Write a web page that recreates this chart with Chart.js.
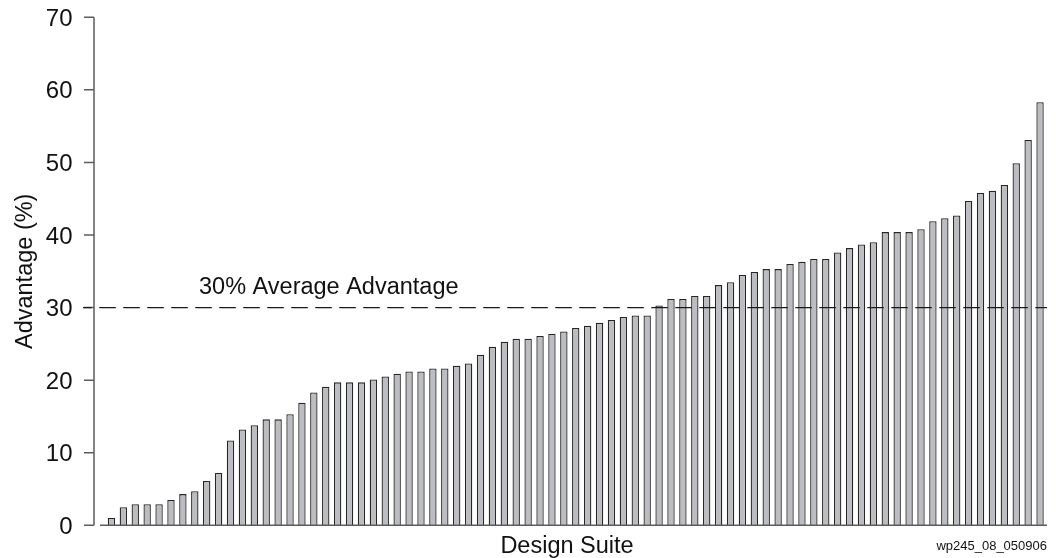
<!DOCTYPE html>
<html>
<head>
<meta charset="utf-8">
<script src="https://cdn.jsdelivr.net/npm/chart.js@4.4.1/dist/chart.umd.min.js"></script>
<style>
    body { margin: 0; background: #fff; }
    #chart-box { width: 1057px; height: 558px; }
</style>
</head>
<body>
<div id="chart-box"><canvas id="advantage-chart" width="1057" height="558"></canvas></div>
<script>
// Dane (posortowane rosnaco)
const advantage = [
    1.0, 2.5, 2.9, 2.9, 2.9, 3.5, 4.3, 4.7, 6.1, 7.2,
    11.7, 13.2, 13.8, 14.6, 14.6, 15.3, 16.9, 18.3, 19.1, 19.7,
    19.7, 19.7, 20.1, 20.5, 20.9, 21.2, 21.2, 21.6, 21.6, 22.0,
    22.3, 23.5, 24.6, 25.3, 25.7, 25.7, 26.1, 26.4, 26.7, 27.2,
    27.5, 27.9, 28.3, 28.7, 28.9, 28.9, 30.3, 31.2, 31.2, 31.6,
    31.6, 33.1, 33.5, 34.5, 34.9, 35.3, 35.3, 36.0, 36.3, 36.7,
    36.7, 37.6, 38.2, 38.7, 39.0, 40.4, 40.4, 40.4, 40.8, 41.9,
    42.3, 42.7, 44.7, 45.8, 46.1, 46.9, 49.9, 53.1, 58.3
];
const designs = advantage.map((_, i) => 'Design ' + (i + 1));
const yTicks = [0, 10, 20, 30, 40, 50, 60, 70];
const averageAdvantage = 30;
const averageLabel = '30% Average Advantage';
const xTitle = 'Design Suite';
const yTitle = 'Advantage (%)';
const figureId = 'wp245_08_050906';

const FONT = '"Liberation Sans", Arial, Helvetica, sans-serif';

// Osie, linia sredniej i podpisy
const axesPlugin = {
    id: 'axesPlugin',
    afterDatasetsDraw(chart) {
        const ctx = chart.ctx;
        const y = chart.scales.y;
        const area = chart.chartArea;
        const axisX = area.left - 11.5;
        const y0 = y.getPixelForValue(0);
        const yTop = y.getPixelForValue(yTicks[yTicks.length - 1]);

        ctx.save();
        ctx.strokeStyle = '#5c5c5c';
        ctx.lineWidth = 1.5;
        ctx.beginPath();
        ctx.moveTo(axisX, yTop);
        ctx.lineTo(axisX, y0);
        yTicks.forEach(v => {
            const py = y.getPixelForValue(v);
            ctx.moveTo(axisX - 10, py);
            ctx.lineTo(axisX, py);
        });
        ctx.moveTo(area.left - 5.5, y0);
        ctx.lineTo(area.right + 1, y0);
        ctx.stroke();

        // linia przerywana - srednia
        const yAvg = y.getPixelForValue(averageAdvantage);
        ctx.strokeStyle = '#1a1a1a';
        ctx.lineWidth = 1.3;
        ctx.setLineDash([16.5, 7.5]);
        ctx.lineDashOffset = 7.7;
        ctx.beginPath();
        ctx.moveTo(axisX - 11, yAvg);
        ctx.lineTo(area.right + 1, yAvg);
        ctx.stroke();
        ctx.setLineDash([]);

        ctx.fillStyle = '#111';
        ctx.font = '23.5px ' + FONT;
        ctx.textAlign = 'left';
        ctx.textBaseline = 'alphabetic';
        ctx.fillText(averageLabel, area.left + 93.5, yAvg - 14);

        ctx.textAlign = 'center';
        ctx.fillText(xTitle, 567, 553);

        ctx.font = '13px ' + FONT;
        ctx.textAlign = 'right';
        ctx.fillText(figureId, area.right + 1, 550);
        ctx.restore();
    }
};

const ctx = document.getElementById('advantage-chart').getContext('2d');

new Chart(ctx, {
    type: 'bar',
    data: {
        labels: designs,
        datasets: [{
            data: advantage,
            backgroundColor: '#bcbdc1',
            borderColor: '#262626',
            borderWidth: 1.3,
            barPercentage: 0.62,
            categoryPercentage: 1
        }]
    },
    options: {
        responsive: false,
        animation: false,
        layout: {
            padding: { left: 0, right: 11, top: 17.3, bottom: 32.7 }
        },
        scales: {
            x: {
                display: false,
                offset: true
            },
            y: {
                min: 0,
                max: 70,
                afterFit: (scale) => {
                    scale.width = 105.5;
                    scale.paddingTop = 0;
                    scale.paddingBottom = 0;
                },
                afterBuildTicks: (scale) => { scale.ticks = yTicks.map(v => ({ value: v })); },
                grid: { display: false, drawTicks: false },
                border: { display: false },
                ticks: {
                    padding: 33,
                    labelOffset: 2,
                    color: '#111',
                    font: { family: FONT, size: 24 }
                },
                title: {
                    display: true,
                    text: yTitle,
                    color: '#111',
                    font: { family: FONT, size: 23.5 },
                    padding: { top: 11, bottom: 0 }
                }
            }
        },
        plugins: {
            legend: { display: false },
            tooltip: { enabled: false }
        }
    },
    plugins: [axesPlugin]
});
</script>
</body>
</html>
